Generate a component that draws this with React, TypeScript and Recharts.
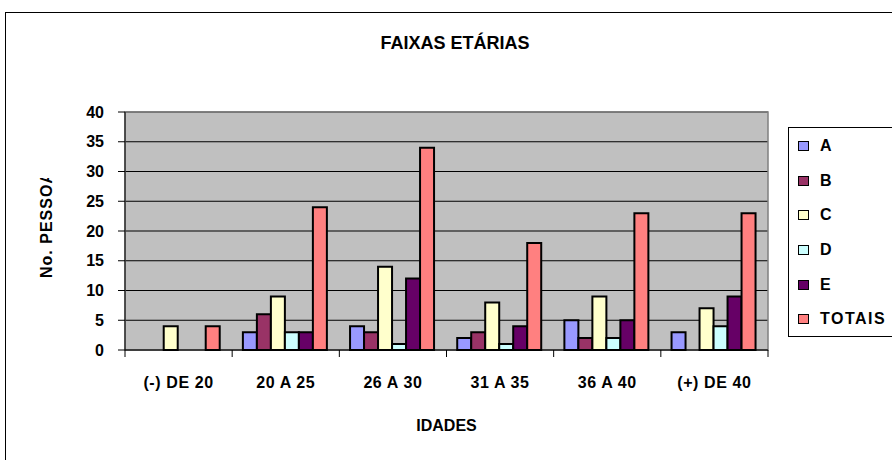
import React from 'react';
import {
  BarChart, Bar, XAxis, YAxis, CartesianGrid, Legend, ReferenceArea,
} from 'recharts';

const categories = ['(-) DE 20', '20 A 25', '26 A 30', '31 A 35', '36 A 40', '(+) DE 40'];
const seriesNames = ['A', 'B', 'C', 'D', 'E', 'TOTAIS'];
const seriesColors = ['#9999FF', '#993366', '#FFFFCC', '#CCFFFF', '#660066', '#FF8080'];
const valuesA = [0, 3, 4, 2, 5, 3];
const valuesB = [0, 6, 3, 3, 2, 0];
const valuesC = [4, 9, 14, 8, 9, 7];
const valuesD = [0, 3, 1, 1, 2, 4];
const valuesE = [0, 3, 12, 4, 5, 9];
const valuesTotais = [4, 24, 34, 18, 23, 23];
const yTicks = [0, 5, 10, 15, 20, 25, 30, 35, 40];

const seriesValues = [valuesA, valuesB, valuesC, valuesD, valuesE, valuesTotais];

const chartData = categories.map((name, i) => {
  const row: Record<string, string | number> = { name };
  seriesNames.forEach((s, j) => { row[s] = seriesValues[j][i]; });
  return row;
});

const FONT = "'Liberation Sans', Arial, Helvetica, sans-serif";
const textStyle = { fill: '#000', fontSize: 16, fontWeight: 700, fontFamily: FONT };

function CategoryTick(props: any) {
  const { x, y, payload, index, visibleTicksCount } = props;
  const half = payload && payload.offset ? payload.offset : 53.6;
  return (
    <g>
      <line x1={x - half} x2={x - half} y1={y} y2={y + 7} stroke="#000" />
      {index === visibleTicksCount - 1 && (
        <line x1={x + half} x2={x + half} y1={y} y2={y + 7} stroke="#000" />
      )}
      <text x={x} y={y + 38} textAnchor="middle" {...textStyle} letterSpacing={0.6}>
        {payload.value}
      </text>
    </g>
  );
}

function LegendBox(props: any) {
  const { payload } = props;
  return (
    <div style={{
      width: 112, height: 210, border: '1px solid #000', background: '#fff',
      boxSizing: 'border-box', paddingTop: 1, fontFamily: FONT, fontWeight: 700, fontSize: 16,
    }}>
      {(payload || []).map((p: any) => (
        <div key={p.value} style={{ height: 34.6, display: 'flex', alignItems: 'center' }}>
          <span style={{
            display: 'inline-block', width: 9, height: 8, marginLeft: 9, marginRight: 11,
            background: p.color, border: '1px solid #000',
          }} />
          <span style={{ letterSpacing: 1.5 }}>{p.value}</span>
        </div>
      ))}
    </div>
  );
}

export default function App() {
  return (
    <div style={{ position: 'absolute', left: 0, top: 0, width: 892, height: 460, overflow: 'hidden', background: '#fff' }}>
      <div style={{
        position: 'absolute', left: 5, top: 12, width: 920, height: 480,
        border: '1px solid #000', boxSizing: 'border-box',
      }} />
      <svg width={892} height={460} style={{ position: 'absolute', left: 0, top: 0 }}>
        <text x={455} y={49} textAnchor="middle" fontFamily={FONT} fontWeight={700} fontSize={18}>
          FAIXAS ETÁRIAS
        </text>
        <defs>
          <clipPath id="ylab-clip">
            <rect x={30} y={178} width={30} height={130} />
          </clipPath>
        </defs>
        <g clipPath="url(#ylab-clip)">
          <text
            x={52} y={278} transform="rotate(-90 52 278)" textAnchor="start"
            fontFamily={FONT} fontWeight={700} fontSize={16} letterSpacing={1}
          >
            No. PESSOAS
          </text>
        </g>
      </svg>
      <div style={{ position: 'absolute', left: 0, top: 0 }}>
        <BarChart
          width={892}
          height={460}
          data={chartData}
          margin={{ top: 112, right: 124, left: 45, bottom: 30 }}
          barCategoryGap="10%"
          barGap={0}
        >
          <CartesianGrid vertical={false} stroke="#000" fill="#C0C0C0" fillOpacity={1} />
          <ReferenceArea
            x1={categories[0]} x2={categories[categories.length - 1]} y1={0} y2={40}
            fill="none" stroke="#808080" strokeWidth={1.5} ifOverflow="visible"
          />
          <XAxis
            dataKey="name"
            height={80}
            tickSize={0}
            tickMargin={0}
            tickLine={false}
            axisLine={{ stroke: '#000' }}
            tick={<CategoryTick />}
            interval={0}
            label={{ value: 'IDADES', position: 'insideBottom', offset: -1, style: textStyle }}
          />
          <YAxis
            width={80}
            domain={[0, 40]}
            ticks={yTicks}
            interval={0}
            tickSize={7}
            tickMargin={14}
            axisLine={{ stroke: '#000' }}
            tickLine={{ stroke: '#000' }}
            tick={textStyle}
          />
          <Legend
            layout="vertical"
            align="center"
            verticalAlign="middle"
            wrapperStyle={{ left: 788, top: 127, width: 112 }}
            content={<LegendBox />}
          />
          {seriesNames.map((s, j) => (
            <Bar
              key={s}
              dataKey={s}
              name={s}
              fill={seriesColors[j]}
              stroke="#000"
              strokeWidth={2}
              isAnimationActive={false}
            />
          ))}
        </BarChart>
      </div>
    </div>
  );
}
